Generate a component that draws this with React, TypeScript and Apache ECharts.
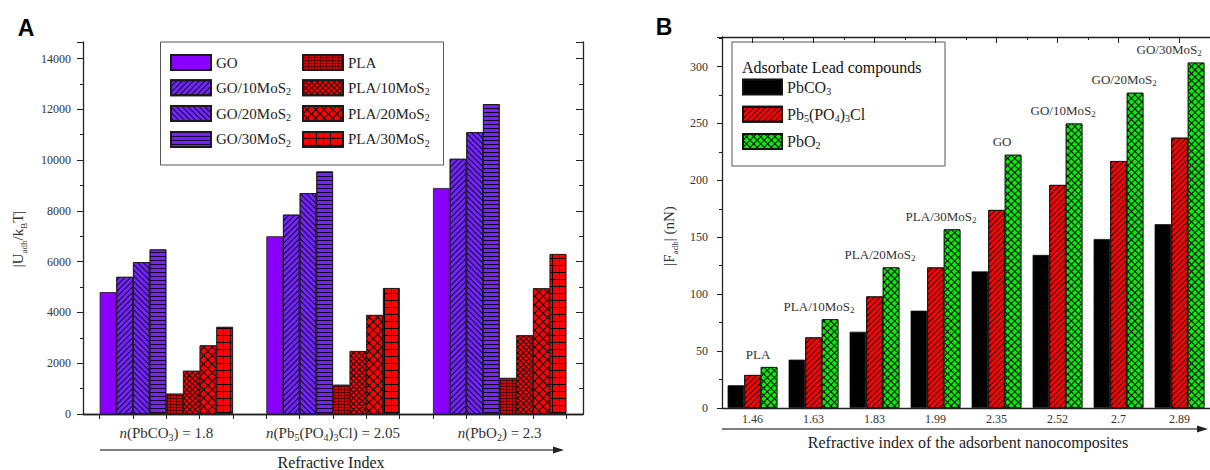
import React, { useEffect, useRef } from 'react';
import * as echarts from 'echarts';

const SERIF = "'Liberation Serif', 'Times New Roman', serif";
const SANS = "'Liberation Sans', Arial, sans-serif";

// ---------- Panel A data ----------
const categoriesA = ['n(PbCO3) = 1.8', 'n(Pb5(PO4)3Cl) = 2.05', 'n(PbO2) = 2.3'];
const seriesNamesA = ['GO', 'GO/10MoS2', 'GO/20MoS2', 'GO/30MoS2', 'PLA', 'PLA/10MoS2', 'PLA/20MoS2', 'PLA/30MoS2'];
const goValues = [4800, 7000, 8900];
const go10Values = [5400, 7850, 10050];
const go20Values = [5980, 8700, 11100];
const go30Values = [6480, 9550, 12200];
const plaValues = [800, 1150, 1420];
const pla10Values = [1700, 2480, 3100];
const pla20Values = [2700, 3900, 4950];
const pla30Values = [3430, 4960, 6300];
const yMinA = 0;
const yMaxA = 14650;
const yIntervalA = 2000;
const topTickSlotsA = ['t1', 't2', 't3', 't4', 't5', 't6', 't7', 't8', 't9', 't10', 't11', 't12', 't13', 't14', 't15'];

// ---------- Panel B data ----------
const categoriesB = ['1.46', '1.63', '1.83', '1.99', '2.35', '2.52', '2.7', '2.89'];
const seriesNamesB = ['PbCO3', 'Pb5(PO4)3Cl', 'PbO2'];
const pbco3Values = [20, 42.5, 67, 85.5, 120, 134.5, 148.5, 161.5];
const pb5Values = [29, 62, 98, 123.5, 174, 196, 217, 237.5];
const pbo2Values = [36, 78, 123.5, 157, 222.5, 250, 277, 303.5];
const annotationsB = ['PLA', 'PLA/10MoS2', 'PLA/20MoS2', 'PLA/30MoS2', 'GO', 'GO/10MoS2', 'GO/20MoS2', 'GO/30MoS2'];
const yMinB = 0;
const yMaxB = 326;
const yIntervalB = 50;

// ---------- helpers ----------
function toRich(s: string, italicLead = false): string {
  let out = '';
  let i = 0;
  if (italicLead && s.startsWith('n(')) {
    out += '{i|n}';
    i = 1;
  }
  let buf = '';
  let mode = 't';
  const flush = () => {
    if (buf) {
      out += `{${mode}|${buf}}`;
      buf = '';
    }
  };
  for (; i < s.length; i++) {
    const c = s[i];
    const prev = i > 0 ? s[i - 1] : '';
    const isDigit = /[0-9]/.test(c);
    const isSub = isDigit && (/[A-Za-z)]/.test(prev) || (mode === 's' && /[0-9]/.test(prev)));
    const m = isSub ? 's' : 't';
    if (m !== mode) {
      flush();
      mode = m;
    }
    buf += c;
  }
  flush();
  return out;
}

const richEc = (size: number, subSize: number, lh: number, color: string) => ({
  t: { fontFamily: SERIF, fontSize: size, color, lineHeight: lh },
  s: { fontFamily: SERIF, fontSize: subSize, color, verticalAlign: 'bottom' },
  i: { fontFamily: SERIF, fontSize: size, color, lineHeight: lh, fontStyle: 'italic' },
});

const richZr = (size: number, subSize: number, lh: number, fill: string) => ({
  t: { fontFamily: SERIF, fontSize: size, fill, lineHeight: lh },
  s: { fontFamily: SERIF, fontSize: subSize, fill, verticalAlign: 'bottom' },
});

// rotation > 0 turns the stripes clockwise ("\"), < 0 gives "/"
const lineDecal = (rotation: number, gap: number) => ({
  symbol: 'rect',
  symbolSize: 1,
  color: 'rgba(0,0,0,0.85)',
  dashArrayX: [20, 0],
  dashArrayY: [1, gap],
  rotation,
});
const tileDecal = (size: number, color: string, rotation: number) => ({
  symbol: 'rect',
  symbolSize: 1,
  color,
  dashArrayX: [size, 1],
  dashArrayY: [size, 1],
  rotation,
});

const axisColor = '#222';
const labelColor = '#333';

const valuesA = [goValues, go10Values, go20Values, go30Values, plaValues, pla10Values, pla20Values, pla30Values];
const stylesA: any[] = [
  { color: '#8800ff' },
  { color: '#7424ff', decal: lineDecal(-Math.PI / 4, 3) },
  { color: '#7424ff', decal: lineDecal(Math.PI / 4, 3) },
  { color: '#7424ff', decal: lineDecal(0, 3) },
  { color: '#5a0000', decal: tileDecal(2, '#e00000', 0) },
  { color: '#1a0000', decal: tileDecal(3, '#ff0000', Math.PI / 4) },
  { color: '#000000', decal: tileDecal(5, '#ff0000', Math.PI / 4) },
  { color: '#000000', decal: tileDecal(6, '#ff0000', 0) },
];

const valueAxisCommon = (min: number, max: number, interval: number) => ({
  type: 'value',
  min,
  max,
  interval,
  splitLine: { show: false },
  axisLine: { show: true, lineStyle: { color: axisColor, width: 1.3 } },
});

const option: any = {
  animation: false,
  backgroundColor: '#ffffff',
  grid: [
    { left: 83, top: 42, width: 500, height: 372 },
    { left: 722, top: 37, width: 490, height: 371 },
  ],
  xAxis: [
    {
      type: 'category',
      gridIndex: 0,
      data: categoriesA,
      position: 'bottom',
      axisLine: { lineStyle: { color: axisColor, width: 1.3 } },
      axisTick: { show: false },
      axisLabel: { margin: 10, interval: 0, formatter: (v: string) => toRich(v, true), rich: richEc(15, 10, 18, labelColor) },
    },
    {
      type: 'category',
      gridIndex: 0,
      data: topTickSlotsA,
      position: 'top',
      axisLine: { lineStyle: { color: axisColor, width: 1.3 } },
      axisTick: { show: true, inside: true, alignWithLabel: true, interval: 0, length: 5, lineStyle: { color: axisColor } },
      axisLabel: { show: false },
    },
    {
      type: 'category',
      gridIndex: 1,
      data: categoriesB,
      position: 'bottom',
      axisLine: { lineStyle: { color: axisColor, width: 1.3 } },
      axisTick: { show: false },
      axisLabel: { margin: 5, interval: 0, fontFamily: SERIF, fontSize: 12, color: labelColor },
    },
    {
      type: 'category',
      gridIndex: 1,
      data: categoriesB,
      position: 'top',
      axisLine: { lineStyle: { color: axisColor, width: 1.3 } },
      axisTick: { show: true, inside: true, alignWithLabel: true, interval: 0, length: 6, lineStyle: { color: axisColor } },
      axisLabel: { show: false },
    },
    {
      type: 'category',
      gridIndex: 1,
      data: categoriesB,
      position: 'top',
      axisLine: { show: false },
      axisTick: { show: true, inside: true, interval: 0, length: 3, lineStyle: { color: axisColor } },
      axisLabel: { show: false },
    },
  ],
  yAxis: [
    {
      ...valueAxisCommon(yMinA, yMaxA, yIntervalA),
      gridIndex: 0,
      position: 'left',
      axisTick: { show: true, length: 6, lineStyle: { color: axisColor } },
      minorTick: { show: true, splitNumber: 2, length: 3, lineStyle: { color: axisColor } },
      axisLabel: { margin: 12, showMaxLabel: false, fontFamily: SERIF, fontSize: 12, color: labelColor, formatter: (v: number) => String(v) },
    },
    {
      ...valueAxisCommon(yMinA, yMaxA, yIntervalA),
      gridIndex: 0,
      position: 'right',
      axisTick: { show: true, inside: true, length: 7, lineStyle: { color: axisColor } },
      minorTick: { show: true, splitNumber: 2, length: 4, lineStyle: { color: axisColor } },
      axisLabel: { show: false },
    },
    {
      ...valueAxisCommon(yMinB, yMaxB, yIntervalB),
      gridIndex: 1,
      position: 'left',
      axisTick: { show: true, length: 5, lineStyle: { color: axisColor } },
      minorTick: { show: true, splitNumber: 2, length: 3, lineStyle: { color: axisColor } },
      axisLabel: { margin: 14, showMaxLabel: false, fontFamily: SERIF, fontSize: 12, color: labelColor, formatter: (v: number) => String(v) },
    },
  ],
  legend: [
    {
      data: seriesNamesA.slice(0, 4),
      orient: 'vertical',
      left: 170,
      top: 54,
      padding: 0,
      itemWidth: 40,
      itemHeight: 15,
      itemGap: 8.3,
      icon: 'rect',
      selectedMode: false,
      formatter: (n: string) => toRich(n),
      textStyle: { rich: richEc(15, 10, 18, '#222') },
    },
    {
      data: seriesNamesA.slice(4),
      orient: 'vertical',
      left: 302,
      top: 54,
      padding: 0,
      itemWidth: 40,
      itemHeight: 15,
      itemGap: 8.3,
      icon: 'rect',
      selectedMode: false,
      formatter: (n: string) => toRich(n),
      textStyle: { rich: richEc(15, 10, 18, '#222') },
    },
    {
      data: seriesNamesB,
      orient: 'vertical',
      left: 742,
      top: 78.5,
      padding: 0,
      itemWidth: 39,
      itemHeight: 15,
      itemGap: 9.7,
      icon: 'rect',
      selectedMode: false,
      formatter: (n: string) => toRich(n),
      textStyle: { rich: richEc(16, 10, 18, '#222') },
    },
  ],
  series: [
    ...seriesNamesA.map((name, i) => ({
      type: 'bar',
      name,
      xAxisIndex: 0,
      yAxisIndex: 0,
      data: valuesA[i],
      barGap: '0%',
      barCategoryGap: '20%',
      itemStyle: { color: stylesA[i].color, decal: stylesA[i].decal, borderColor: '#1a1a1a', borderWidth: 0.8 },
    })),
    {
      type: 'bar',
      name: seriesNamesB[0],
      xAxisIndex: 2,
      yAxisIndex: 2,
      data: pbco3Values,
      barGap: '0%',
      barCategoryGap: '18.4%',
      itemStyle: { color: '#000000', borderColor: '#111', borderWidth: 0.8 },
    },
    {
      type: 'bar',
      name: seriesNamesB[1],
      xAxisIndex: 2,
      yAxisIndex: 2,
      data: pb5Values,
      barGap: '0%',
      barCategoryGap: '18.4%',
      itemStyle: { color: '#ff0000', decal: lineDecal(-Math.PI / 4, 3), borderColor: '#111', borderWidth: 0.8 },
    },
    {
      type: 'bar',
      name: seriesNamesB[2],
      xAxisIndex: 2,
      yAxisIndex: 2,
      // the last annotation is nudged left so that it stays inside the picture
      data: pbo2Values.map((v, i) => (i === pbo2Values.length - 1 ? { value: v, label: { offset: [-27, 0] } } : v)),
      barGap: '0%',
      barCategoryGap: '18.4%',
      itemStyle: { color: '#000000', decal: tileDecal(4, '#00ee00', Math.PI / 4), borderColor: '#111', borderWidth: 0.8 },
      label: {
        show: true,
        position: 'top',
        distance: 5,
        offset: [-11, 0],
        formatter: (p: any) => toRich(annotationsB[p.dataIndex]),
        rich: richEc(13, 9, 16, labelColor),
      },
    },
  ],
  graphic: [
    { type: 'text', x: 26, y: 28, style: { text: 'A', font: `bold 23px ${SANS}`, fill: '#000', align: 'center', verticalAlign: 'middle' } },
    { type: 'text', x: 664, y: 27, style: { text: 'B', font: `bold 23px ${SANS}`, fill: '#000', align: 'center', verticalAlign: 'middle' } },
    { type: 'rect', shape: { x: 160.5, y: 42, width: 283, height: 123 }, style: { fill: 'none', stroke: '#555', lineWidth: 1 } },
    { type: 'rect', shape: { x: 732, y: 42, width: 213, height: 124 }, style: { fill: 'none', stroke: '#555', lineWidth: 1 } },
    { type: 'text', x: 742, y: 67, style: { text: 'Adsorbate Lead compounds', font: `16px ${SERIF}`, fill: '#111', align: 'left', verticalAlign: 'middle' } },
    {
      type: 'text',
      x: 18,
      y: 239,
      rotation: Math.PI / 2,
      style: { text: '{t||U}{s|adh}{t|/k}{s|B}{t|T|}', rich: richZr(15, 9, 20, '#333'), align: 'center', verticalAlign: 'middle' },
    },
    {
      type: 'text',
      x: 669,
      y: 236,
      rotation: Math.PI / 2,
      style: { text: '{t||F}{s|adh}{t|| (nN)}', rich: richZr(15, 9, 20, '#333'), align: 'center', verticalAlign: 'middle' },
    },
    { type: 'line', shape: { x1: 100, y1: 450, x2: 556, y2: 450 }, style: { stroke: '#555', lineWidth: 1.5 } },
    { type: 'polygon', shape: { points: [[553, 446.5], [564, 450], [553, 453.5]] }, style: { fill: '#222' } },
    { type: 'line', shape: { x1: 722, y1: 429, x2: 1200, y2: 429 }, style: { stroke: '#555', lineWidth: 1.5 } },
    { type: 'polygon', shape: { points: [[1197, 425.5], [1208, 429], [1197, 432.5]] }, style: { fill: '#222' } },
    { type: 'text', x: 331, y: 454, style: { text: 'Refractive Index', font: `16px ${SERIF}`, fill: '#222', align: 'center', verticalAlign: 'top' } },
    { type: 'text', x: 968, y: 442, style: { text: 'Refractive index of the adsorbent nanocomposites', font: `16px ${SERIF}`, fill: '#222', align: 'center', verticalAlign: 'middle' } },
  ],
};

export default function App() {
  const ref = useRef<HTMLDivElement>(null);
  useEffect(() => {
    document.body.style.margin = '0';
    const chart = echarts.init(ref.current as HTMLDivElement, undefined, { renderer: 'svg' });
    chart.setOption(option);
    return () => chart.dispose();
  }, []);
  return <div ref={ref} style={{ width: 1210, height: 470 }} />;
}
